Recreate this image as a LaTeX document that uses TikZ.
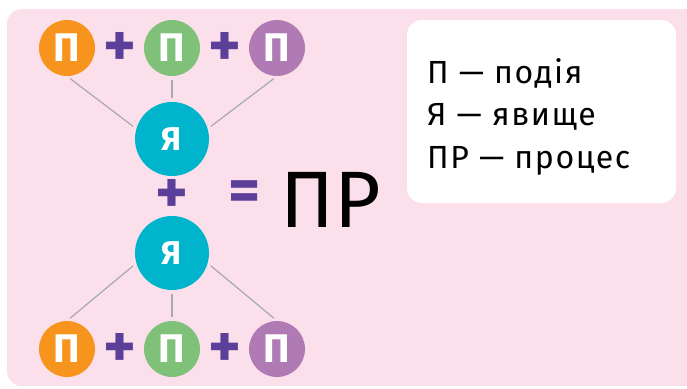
\documentclass[tikz,border=0pt]{standalone}
\usepackage{fontspec}
\setmainfont{Fira Sans}
\usetikzlibrary{positioning}
\definecolor{bg-pink}{HTML}{FBE0EB}
\definecolor{ev-orange}{HTML}{F7941D}
\definecolor{ev-green}{HTML}{80C17A}
\definecolor{ev-purple}{HTML}{B07AB5}
\definecolor{ph-teal}{HTML}{00B4CC}
\definecolor{op-violet}{HTML}{5B3F99}
\definecolor{link-grey}{HTML}{A7A9AC}

\begin{document}
\begin{tikzpicture}[x=1pt,y=-1pt,
  event/.style={circle,minimum size=56pt,inner sep=0pt,text=white,font=\bfseries\fontsize{40}{40}\selectfont},
  phen/.style={circle,fill=ph-teal,minimum size=74pt,inner sep=0pt,text=white,font=\bfseries\fontsize{33}{33}\selectfont},
  op/.style={text=op-violet,inner sep=0pt,font=\bfseries\fontsize{62}{62}\selectfont},
  link/.style={link-grey,line width=1.2pt,shorten <=4pt,shorten >=4pt},
  keyline/.style={anchor=base west,inner sep=0pt,font=\fontsize{32}{32}\selectfont\addfontfeature{LetterSpace=5}}]
\useasboundingbox (0,0) rectangle (687,388);
\fill[bg-pink,rounded corners=15pt] (7,9) rectangle (710,386);
\fill[white,rounded corners=15pt] (407,20) rectangle (676,203);
\path
(172,139) node[phen] (y1) {Я}
(67,48)   node[event,fill=ev-orange] (a1) {П}
(172,48)  node[event,fill=ev-green]  (a2) {П}
(277,48)  node[event,fill=ev-purple] (a3) {П}
(120,49)  node[op] (pa1) {+}
(225,49)  node[op] (pa2) {+}
(172,196) node[op] (pm) {+}
(245,196) node[op] (eq) {=}
(331,200) node[inner sep=0pt,font=\fontsize{80}{80}\selectfont] (pr) {ПР}
(172,253) node[phen] (y2) {Я}
(67,349)  node[event,fill=ev-orange] (b1) {П}
(172,349) node[event,fill=ev-green]  (b2) {П}
(277,349) node[event,fill=ev-purple] (b3) {П}
(120,350) node[op] (pb1) {+}
(225,350) node[op] (pb2) {+};
\draw[link] (a1.south)--(y1.164);
\draw[link] (a2.south)--(y1.north);
\draw[link] (a3.south)--(y1.16);
\draw[link] (b1.north)--(y2.196);
\draw[link] (b2.north)--(y2.south);
\draw[link] (b3.north)--(y2.-16);
% legend
\node[keyline] (k1) at (427,83)  {П — подія};
\node[keyline] (k2) at (427,125) {Я — явище};
\node[keyline] (k3) at (427,168) {ПР — процес};
\end{tikzpicture}
\end{document}
